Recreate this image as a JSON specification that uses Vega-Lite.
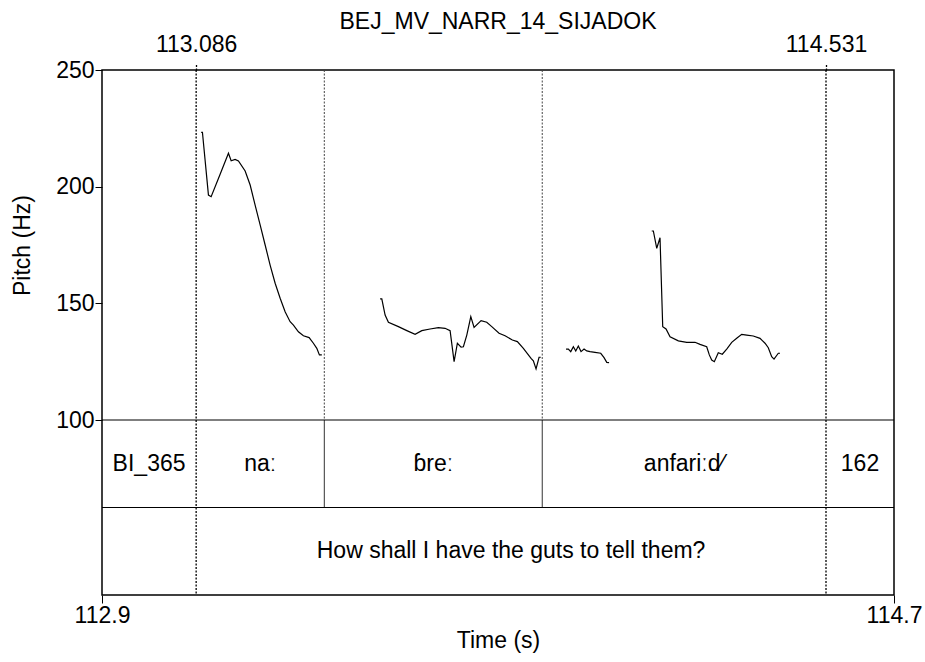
{
  "$schema": "https://vega.github.io/schema/vega-lite/v6.json",
  "width": 792,
  "height": 525,
  "autosize": "none",
  "padding": {"left": 102, "top": 70, "right": 31, "bottom": 67},
  "background": "white",
  "config": {
    "view": {"stroke": "black", "strokeWidth": 1.5},
    "font": "Liberation Sans",
    "axis": {"labelFont": "Liberation Sans", "titleFont": "Liberation Sans", "labelColor": "black", "titleColor": "black", "tickColor": "black", "labelFontSize": 23, "titleFontSize": 23, "titleFontWeight": "normal", "grid": false, "domain": false}
  },
  "title": {"text": "BEJ_MV_NARR_14_SIJADOK", "font": "Liberation Sans", "fontSize": 23, "fontWeight": "normal", "color": "black", "offset": -1},
  "datasets": {
    "pitch": [
      {"t": 113.0975, "hz": 223.3, "seg": 1}, {"t": 113.1004, "hz": 223.3, "seg": 1}, {"t": 113.1142, "hz": 196.4, "seg": 1}, {"t": 113.1204, "hz": 195.7, "seg": 1},
      {"t": 113.141, "hz": 205.3, "seg": 1}, {"t": 113.1601, "hz": 214.3, "seg": 1}, {"t": 113.1663, "hz": 211.1, "seg": 1}, {"t": 113.1754, "hz": 211.7, "seg": 1},
      {"t": 113.183, "hz": 211.0, "seg": 1}, {"t": 113.1984, "hz": 206.7, "seg": 1}, {"t": 113.2099, "hz": 200.7, "seg": 1}, {"t": 113.2213, "hz": 192.1, "seg": 1},
      {"t": 113.2328, "hz": 183.6, "seg": 1}, {"t": 113.2443, "hz": 175.0, "seg": 1}, {"t": 113.2557, "hz": 166.4, "seg": 1}, {"t": 113.2672, "hz": 158.6, "seg": 1},
      {"t": 113.2787, "hz": 152.2, "seg": 1}, {"t": 113.2901, "hz": 146.4, "seg": 1}, {"t": 113.3016, "hz": 142.1, "seg": 1}, {"t": 113.3092, "hz": 140.7, "seg": 1},
      {"t": 113.3206, "hz": 137.8, "seg": 1}, {"t": 113.3321, "hz": 136.1, "seg": 1}, {"t": 113.3452, "hz": 135.3, "seg": 1}, {"t": 113.355, "hz": 132.9, "seg": 1},
      {"t": 113.3628, "hz": 130.7, "seg": 1}, {"t": 113.3688, "hz": 127.9, "seg": 1}, {"t": 113.3743, "hz": 127.9, "seg": 1},
      {"t": 113.508, "hz": 151.9, "seg": 2}, {"t": 113.5119, "hz": 151.9, "seg": 2}, {"t": 113.5195, "hz": 145.0, "seg": 2}, {"t": 113.5271, "hz": 141.9, "seg": 2},
      {"t": 113.55, "hz": 140.0, "seg": 2}, {"t": 113.5693, "hz": 138.3, "seg": 2}, {"t": 113.5883, "hz": 136.7, "seg": 2}, {"t": 113.6037, "hz": 138.3, "seg": 2},
      {"t": 113.6227, "hz": 139.0, "seg": 2}, {"t": 113.6418, "hz": 139.6, "seg": 2}, {"t": 113.6571, "hz": 139.3, "seg": 2}, {"t": 113.6686, "hz": 138.3, "seg": 2},
      {"t": 113.6778, "hz": 125.0, "seg": 2}, {"t": 113.6853, "hz": 132.9, "seg": 2}, {"t": 113.6938, "hz": 131.2, "seg": 2}, {"t": 113.6991, "hz": 131.4, "seg": 2},
      {"t": 113.7069, "hz": 136.4, "seg": 2}, {"t": 113.7161, "hz": 144.3, "seg": 2}, {"t": 113.7236, "hz": 139.7, "seg": 2}, {"t": 113.7397, "hz": 142.6, "seg": 2},
      {"t": 113.7527, "hz": 141.9, "seg": 2}, {"t": 113.7642, "hz": 140.0, "seg": 2}, {"t": 113.7809, "hz": 137.2, "seg": 2}, {"t": 113.7947, "hz": 136.1, "seg": 2},
      {"t": 113.8115, "hz": 134.3, "seg": 2}, {"t": 113.8229, "hz": 133.6, "seg": 2}, {"t": 113.8367, "hz": 130.7, "seg": 2}, {"t": 113.8543, "hz": 126.4, "seg": 2},
      {"t": 113.8596, "hz": 125.4, "seg": 2}, {"t": 113.8658, "hz": 121.9, "seg": 2}, {"t": 113.8727, "hz": 126.9, "seg": 2}, {"t": 113.8766, "hz": 126.9, "seg": 2},
      {"t": 113.9346, "hz": 130.4, "seg": 3}, {"t": 113.9399, "hz": 130.4, "seg": 3}, {"t": 113.9454, "hz": 129.3, "seg": 3}, {"t": 113.9514, "hz": 131.4, "seg": 3},
      {"t": 113.9569, "hz": 129.6, "seg": 3}, {"t": 113.9628, "hz": 131.7, "seg": 3}, {"t": 113.969, "hz": 129.3, "seg": 3}, {"t": 113.9759, "hz": 130.4, "seg": 3},
      {"t": 113.9821, "hz": 129.6, "seg": 3}, {"t": 113.9897, "hz": 129.3, "seg": 3}, {"t": 114.0011, "hz": 129.0, "seg": 3}, {"t": 114.0142, "hz": 128.6, "seg": 3},
      {"t": 114.0218, "hz": 126.7, "seg": 3}, {"t": 114.028, "hz": 124.7, "seg": 3}, {"t": 114.0333, "hz": 124.6, "seg": 3},
      {"t": 114.1312, "hz": 181.0, "seg": 4}, {"t": 114.1349, "hz": 181.0, "seg": 4}, {"t": 114.1427, "hz": 173.6, "seg": 4}, {"t": 114.1502, "hz": 178.1, "seg": 4},
      {"t": 114.1564, "hz": 140.0, "seg": 4}, {"t": 114.164, "hz": 139.0, "seg": 4}, {"t": 114.1732, "hz": 135.7, "seg": 4}, {"t": 114.1922, "hz": 133.9, "seg": 4},
      {"t": 114.2115, "hz": 133.3, "seg": 4}, {"t": 114.2305, "hz": 133.3, "seg": 4}, {"t": 114.242, "hz": 132.4, "seg": 4}, {"t": 114.2573, "hz": 131.4, "seg": 4},
      {"t": 114.2633, "hz": 127.9, "seg": 4}, {"t": 114.2688, "hz": 125.7, "seg": 4}, {"t": 114.2748, "hz": 125.0, "seg": 4}, {"t": 114.2839, "hz": 128.8, "seg": 4},
      {"t": 114.2931, "hz": 128.2, "seg": 4}, {"t": 114.3032, "hz": 130.4, "seg": 4}, {"t": 114.3147, "hz": 133.3, "seg": 4}, {"t": 114.3261, "hz": 135.0, "seg": 4},
      {"t": 114.3376, "hz": 136.7, "seg": 4}, {"t": 114.3491, "hz": 136.4, "seg": 4}, {"t": 114.3642, "hz": 136.0, "seg": 4}, {"t": 114.3796, "hz": 135.0, "seg": 4},
      {"t": 114.3911, "hz": 132.9, "seg": 4}, {"t": 114.3986, "hz": 131.0, "seg": 4}, {"t": 114.4064, "hz": 127.1, "seg": 4}, {"t": 114.4117, "hz": 126.1, "seg": 4},
      {"t": 114.4216, "hz": 128.6, "seg": 4}, {"t": 114.4255, "hz": 128.6, "seg": 4}
    ],
    "sentenceBounds": [{"t": 113.086}, {"t": 114.531}],
    "wordBounds": [{"t": 113.38}, {"t": 113.88}],
    "tierLines": [{"hz": 100}, {"hz": 62.5}],
    "wordLabels": [
      {"t": 112.978, "hz": 81.25, "label": "BI_365"},
      {"t": 113.233, "hz": 81.25, "label": "naː"},
      {"t": 113.63, "hz": 81.25, "label": "ɓreː"},
      {"t": 114.2055, "hz": 81.25, "label": "anfariːd⁄"},
      {"t": 114.609, "hz": 81.25, "label": "162"}
    ],
    "sentenceLabels": [
      {"t": 113.8085, "hz": 43.75, "label": "How shall I have the guts to tell them?"}
    ]
  },
  "resolve": {"axis": {"x": "independent", "y": "independent"}},
  "layer": [
    {
      "data": {"name": "pitch"},
      "mark": {"type": "line", "color": "black", "strokeWidth": 1.2},
      "encoding": {
        "x": {"field": "t", "type": "quantitative", "scale": {"domain": [112.87, 114.687], "nice": false, "zero": false},
          "axis": {"orient": "bottom", "title": "Time (s)", "values": [112.87, 114.687], "format": ".1f", "tickSize": 8, "labelPadding": 1, "titlePadding": 2, "labelFlush": false, "labelBound": false}},
        "y": {"field": "hz", "type": "quantitative", "scale": {"domain": [25, 250], "nice": false, "zero": false},
          "axis": {"orient": "left", "title": "Pitch (Hz)", "values": [100, 150, 200, 250], "tickSize": 7, "labelPadding": 1, "titleX": -80, "titleY": 175, "titleBaseline": "middle", "titleAngle": -90, "labelFlush": false, "labelBound": false}},
        "detail": {"field": "seg", "type": "nominal"}
      }
    },
    {
      "data": {"name": "sentenceBounds"},
      "mark": {"type": "rule", "color": "black", "strokeWidth": 1.3, "strokeDash": [2, 1.5]},
      "encoding": {
        "x": {"field": "t", "type": "quantitative",
          "axis": {"orient": "top", "title": null, "values": [113.086, 114.531], "format": ".3f", "tickSize": 7, "tickDash": [2, 1.5], "tickWidth": 1.3, "labelPadding": 7, "labelFlush": false, "labelBound": false}},
        "y": {"datum": 250, "axis": null},
        "y2": {"datum": 25}
      }
    },
    {
      "data": {"name": "wordBounds"},
      "mark": {"type": "rule", "color": "#444444", "strokeWidth": 1, "strokeDash": [2, 1.5]},
      "encoding": {
        "x": {"field": "t", "type": "quantitative", "axis": null},
        "y": {"datum": 250, "axis": null},
        "y2": {"datum": 100}
      }
    },
    {
      "data": {"name": "wordBounds"},
      "mark": {"type": "rule", "color": "#333333", "strokeWidth": 1},
      "encoding": {
        "x": {"field": "t", "type": "quantitative", "axis": null},
        "y": {"datum": 100, "axis": null},
        "y2": {"datum": 62.5}
      }
    },
    {
      "data": {"name": "tierLines"},
      "mark": {"type": "rule", "color": "black", "strokeWidth": 1.2},
      "encoding": {
        "y": {"field": "hz", "type": "quantitative", "axis": null}
      }
    },
    {
      "data": {"name": "wordLabels"},
      "mark": {"type": "text", "font": "Liberation Sans", "fontSize": 23, "color": "black", "align": "center", "baseline": "middle"},
      "encoding": {
        "x": {"field": "t", "type": "quantitative", "axis": null},
        "y": {"field": "hz", "type": "quantitative", "axis": null},
        "text": {"field": "label"}
      }
    },
    {
      "data": {"name": "sentenceLabels"},
      "mark": {"type": "text", "font": "Liberation Sans", "fontSize": 23, "color": "black", "align": "center", "baseline": "middle"},
      "encoding": {
        "x": {"field": "t", "type": "quantitative", "axis": null},
        "y": {"field": "hz", "type": "quantitative", "axis": null},
        "text": {"field": "label"}
      }
    }
  ]
}
